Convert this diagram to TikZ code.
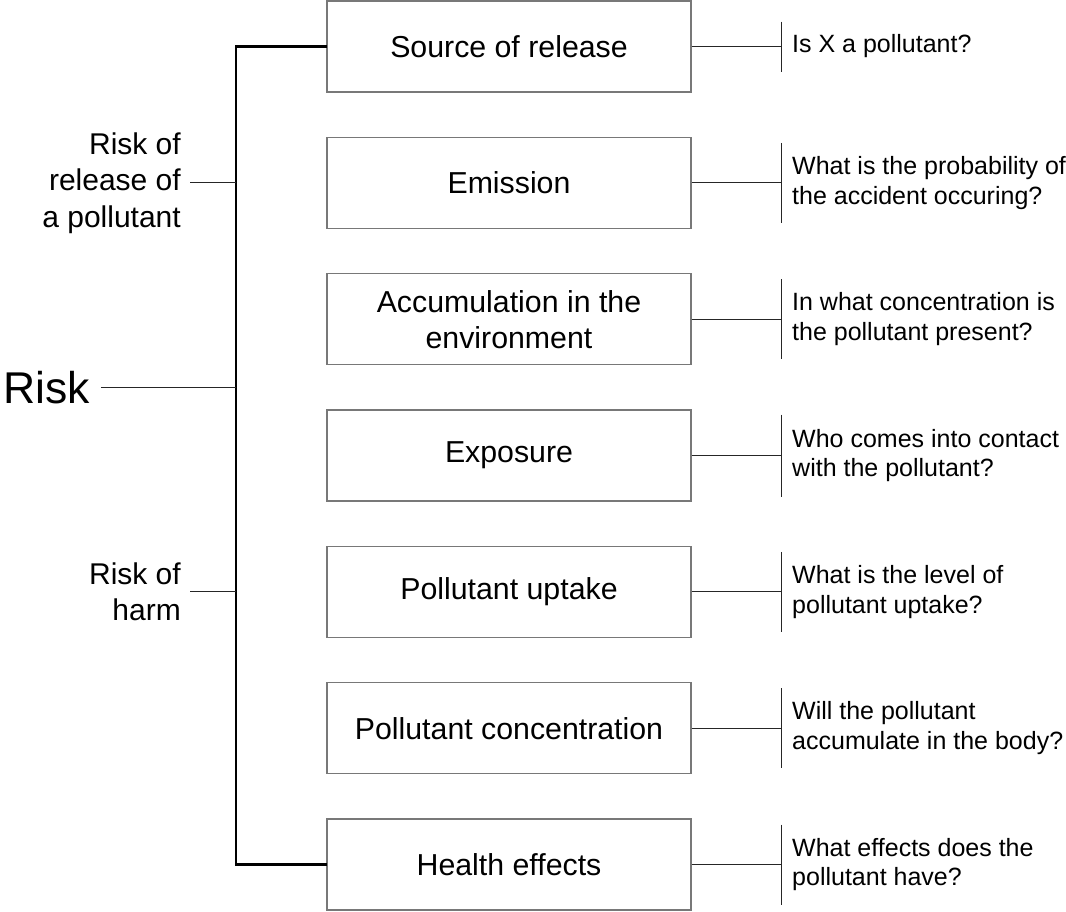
\documentclass[tikz,border=0pt]{standalone}
\usepackage{fontspec}
\setmainfont{Liberation Sans}
\begin{document}
\begin{tikzpicture}[x=1pt,y=-1pt,
  stagebox/.style={draw={rgb,255:red,120;green,120;blue,120}, line width=1.4pt, minimum width=364pt, minimum height=91pt, inner sep=0pt, align=center, font=\fontsize{30.3}{36}\selectfont},
  question/.style={anchor=west, inner sep=0pt, align=left, font=\fontsize{25}{29.5}\selectfont},
  sidelabel/.style={anchor=east, inner sep=0pt, align=right, font=\fontsize{30}{36.5}\selectfont},
  thin/.style={draw=black!85, line width=0.9pt},
  bracket/.style={draw=black, line width=2.2pt, line cap=rect}
]
\useasboundingbox (0,0) rectangle (1066,911);

% stage boxes
\node[stagebox] (b1) at (509,46.5) {Source of release};
\node[stagebox] (b2) at (509,182.8) {Emission};
\node[stagebox] (b3) at (509,319.2) {Accumulation in the\\environment};
\node[stagebox] (b4) at (509,455.5) {Exposure};
\node[stagebox] (b5) at (509,591.8) {Pollutant uptake};
\node[stagebox] (b6) at (509,728.2) {Pollutant concentration};
\node[stagebox] (b7) at (509,864.5) {Health effects};

% spine
\coordinate (top) at (236,46.5);
\coordinate (bot) at (236,864.5);
\coordinate (s1) at (236,182.8);
\coordinate (s2) at (236,387.3);
\coordinate (s3) at (236,591.8);
\draw[bracket] (b1.west) -- (top) -- (bot) -- (b7.west);

% left labels
\node[anchor=west, inner sep=0pt, font=\fontsize{44.5}{50}\selectfont] (risk) at (3,387.3) {Risk};
\node[sidelabel] (l1) at (181,182.8) {Risk of\\release of\\a pollutant};
\node[sidelabel] (l2) at (181,591.8) {Risk of\\harm};
\draw[thin] ([xshift=11pt]risk.east) -- (s2);
\draw[thin] ([xshift=9pt]l1.east) -- (s1);
\draw[thin] ([xshift=9pt]l2.east) -- (s3);

% right ticks and questions
\foreach \i/\y/\h in {1/46.5/25, 2/182.8/40, 3/319.2/40, 4/455.5/41, 5/591.8/40, 6/728.2/40, 7/864.5/40}{
  \coordinate (t\i) at (781,\y);
  \coordinate (ta\i) at (781,\y-\h);
  \coordinate (tb\i) at (781,\y+\h);
  \draw[thin] (b\i.east) -- (t\i);
  \draw[thin] (ta\i) -- (tb\i);
}
\node[question] (q1) at (792,46.5) {Is X a pollutant?};
\node[question] (q2) at (792,182.8) {What is the probability of\\the accident occuring?};
\node[question] (q3) at (792,319.2) {In what concentration is\\the pollutant present?};
\node[question] (q4) at (792,455.5) {Who comes into contact\\with the pollutant?};
\node[question] (q5) at (792,591.8) {What is the level of\\pollutant uptake?};
\node[question] (q6) at (792,728.2) {Will the pollutant\\accumulate in the body?};
\node[question] (q7) at (792,864.5) {What effects does the\\pollutant have?};
\end{tikzpicture}
\end{document}
